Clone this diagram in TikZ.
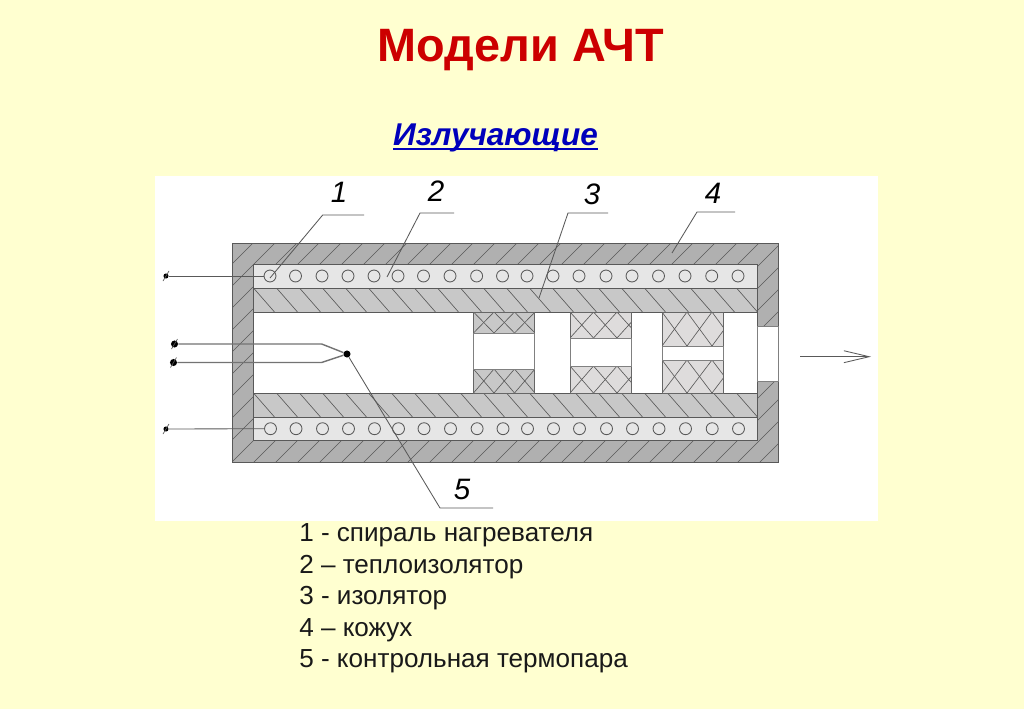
\documentclass[tikz,border=0pt]{standalone}
\usepackage{fontspec}
\setmainfont{Liberation Sans}
\usetikzlibrary{arrows.meta,positioning}

\definecolor{paper}{HTML}{FFFFD0}
\definecolor{shellgray}{HTML}{B0B0B0}
\definecolor{insulgray}{HTML}{C8C8C8}
\definecolor{bandgray}{HTML}{E6E6E6}
\definecolor{crossgray}{HTML}{DEDCDC}
\definecolor{titlered}{HTML}{CC0000}
\definecolor{subblue}{HTML}{0000BB}

\tikzset{
  wall/.style={draw=black!65,line width=0.65pt},
  hatchline/.style={draw=black!65,line width=0.45pt},
  gapbox/.style={draw=black!50,line width=0.65pt,fill=white},
  coil/.style={circle,draw=black!65,line width=0.6pt,fill=bandgray,minimum size=8.5pt,inner sep=0pt},
  dotnode/.style={circle,fill=black,minimum size=5pt,inner sep=0pt},
  smalldot/.style={circle,fill=black,minimum size=3.6pt,inner sep=0pt},
  lead/.style={draw=black!55,line width=1pt},
  leader/.style={draw=black!65,line width=0.6pt},
  partno/.style={font=\fontsize{21}{21}\selectfont\itshape,text=black,inner sep=0pt},
  legend/.style={font=\fontsize{18.55}{20}\selectfont,anchor=base west,inner sep=0pt,text=black!90}
}

\newsavebox{\subbox}

% baffle piece: x1,y1,x2,y2,cell width,fill
\newcommand{\crosspiece}[6]{
  \fill[#6] (#1,#2) rectangle (#3,#4);
  \begin{scope}
    \clip (#1,#2) rectangle (#3,#4);
    \foreach \k in {0,...,3} {
      \draw[hatchline] (#1+#5*\k,#2) -- (#1+#5*\k+#5,#4);
      \draw[hatchline] (#1+#5*\k+#5,#2) -- (#1+#5*\k,#4);
    }
  \end{scope}
  \draw[draw=black!60,line width=0.6pt] (#1,#2) rectangle (#3,#4);
}

% insulating band: y1,y2
\newcommand{\insulband}[2]{
  \fill[insulgray] (253.5,#1) rectangle (757,#2);
  \begin{scope}
    \clip (253.5,#1) rectangle (757,#2);
    \foreach \k in {0,...,22}
      \draw[hatchline] (253.5+23*\k,#1) -- ++(21,24);
  \end{scope}
  \draw[wall] (253.5,#1) rectangle (757,#2);
}

\begin{document}
\begin{tikzpicture}[x=0.025cm,y=-0.025cm]
  \useasboundingbox (0,0) rectangle (1024,709);
  \fill[paper] (0,0) rectangle (1024,709);
  \fill[white] (155,176) rectangle (878,521);

  \node[anchor=base,font=\fontsize{33.3}{33}\selectfont\bfseries,text=titlered] (title) at (521,61.7) {Модели АЧТ};
  \node[anchor=base,font=\fontsize{22.4}{22}\selectfont\bfseries\itshape,text=subblue] (subtitle) at (495.5,146)
    {\sbox{\subbox}{Излучающие}\rlap{\color{subblue}\rule[-2.6pt]{\wd\subbox}{1.2pt}}\usebox{\subbox}};

  % shell
  \fill[shellgray] (232,243) rectangle (778,462.5);
  \begin{scope}
    \clip (232,243) rectangle (778,462.5);
    \foreach \k in {0,...,35}
      \draw[hatchline] (253+22*\k,243) -- ++(-220,220);
  \end{scope}
  \draw[wall] (232,243) rectangle (778,462.5);

  % inside
  \fill[white] (253.5,264) rectangle (757,440);
  \draw[wall] (253.5,264) rectangle (757,440);
  \fill[bandgray] (253.5,264) rectangle (757,288);
  \fill[bandgray] (253.5,417) rectangle (757,440);
  \draw[wall] (253.5,264) rectangle (757,288);
  \draw[wall] (253.5,417) rectangle (757,440);
  \insulband{288}{312}
  \insulband{393}{417}

  % exit hole
  \draw[gapbox] (757,326) rectangle (778,381);

  % baffles
  \crosspiece{473.5}{312}{534.5}{333}{20.5}{insulgray}
  \crosspiece{473.5}{369}{534.5}{393}{20.5}{insulgray}
  \draw[gapbox] (473.5,333) rectangle (534.5,369);
  \crosspiece{570}{312}{631}{338}{23.5}{crossgray}
  \crosspiece{570}{366}{631}{393}{23.5}{crossgray}
  \draw[gapbox] (570,338) rectangle (631,366);
  \crosspiece{662}{312}{723}{346}{25}{crossgray}
  \crosspiece{662}{360}{723}{393}{25}{crossgray}
  \draw[gapbox] (662,346) rectangle (723,360);

  % coils
  \foreach \n/\cx in {1/270,2/295.5,3/322,4/348,5/374,6/398,7/423.5,8/450,9/476.6,10/502.5,11/527,12/553,13/579,14/606,15/632,16/658.5,17/685,18/711.7,19/738} {
    \node[coil] (top\n) at (\cx,276) {};
    \node[coil] (bot\n) at (\cx+0.5,428.7) {};
  }

  % heater leads
  \node[smalldot] (leadtop) at (166,276) {};
  \node[smalldot] (leadbot) at (166,429) {};
  \draw[leader] (leadtop) -- (top1);
  \draw[leader] (leadbot) -- (bot1);

  % thermocouple
  \node[dotnode] (tcone) at (174.5,344) {};
  \node[dotnode] (tctwo) at (173.5,362.5) {};
  \node[dotnode] (tcjoin) at (347,354) {};
  \coordinate (bendone) at (321.7,344);
  \coordinate (bendtwo) at (321.7,362.5);
  \draw[lead] (tcone) -- (bendone) -- (tcjoin);
  \draw[lead] (tctwo) -- (bendtwo) -- (tcjoin);

  \foreach \d in {leadtop,leadbot,tcone,tctwo}
    \draw[hatchline] ([shift={(-3,5)}]\d.center) -- ([shift={(3,-5)}]\d.center);

  % numbered leaders
  \node[partno] (no1) at (339,192) {1};
  \node[partno] (no2) at (436,191) {2};
  \node[partno] (no3) at (592,194) {3};
  \node[partno] (no4) at (713,193) {4};
  \node[partno] (no5) at (462,489) {5};

  \coordinate (a1) at (270,278);
  \coordinate (b1) at (322.7,215);
  \coordinate (c1) at (364,215);
  \draw[leader] (a1) -- (b1) -- (c1);
  \coordinate (a2) at (387,277);
  \coordinate (b2) at (420,213);
  \coordinate (c2) at (454,213);
  \draw[leader] (a2) -- (b2) -- (c2);
  \coordinate (a3) at (539,298);
  \coordinate (b3) at (568,213);
  \coordinate (c3) at (608,213);
  \draw[leader] (a3) -- (b3) -- (c3);
  \coordinate (a4) at (672,253);
  \coordinate (b4) at (697,212);
  \coordinate (c4) at (735,212);
  \draw[leader] (a4) -- (b4) -- (c4);
  \coordinate (b5) at (440,508);
  \coordinate (c5) at (493,508);
  \draw[leader] (tcjoin) -- (b5) -- (c5);

  % outgoing radiation
  \coordinate (rayfrom) at (800,356.7);
  \coordinate (rayto) at (871,356.7);
  \draw[leader,-{Straight Barb[length=18pt,width=8.5pt]}] (rayfrom) -- (rayto);

  % legend
  \foreach \n/\ly/\txt in {1/541.7/{1 - спираль нагревателя},2/573.2/{2 – теплоизолятор},3/604.7/{3 - изолятор},4/636.2/{4 – кожух},5/667.7/{5 - контрольная термопара}}
    \node[legend] (item\n) at (299,\ly) {\txt};
\end{tikzpicture}
\end{document}
